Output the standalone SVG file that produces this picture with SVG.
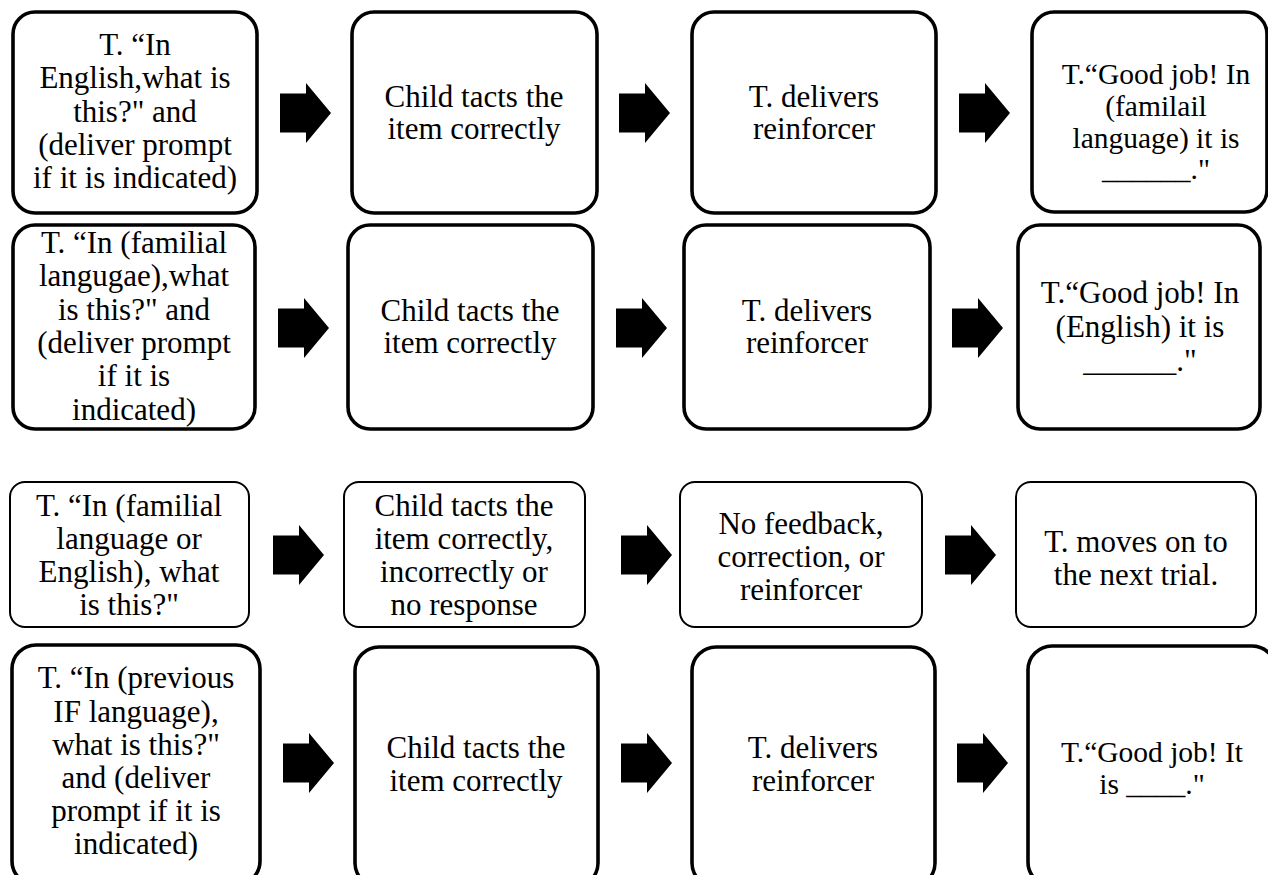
<svg xmlns="http://www.w3.org/2000/svg" width="1268" height="875" viewBox="0 0 1268 875">
<style>
.b{fill:#fff;stroke:#000;stroke-width:3.6}
.t{fill:#fff;stroke:#000;stroke-width:2}
text{font-family:"Liberation Serif","Times New Roman",serif;font-size:31px;fill:#000;text-anchor:middle}
.s{font-size:29.5px}
</style>
<defs>
<path id="arr" d="M0,-19.5 H26 V-30 L51,0 L26,30 V19.5 H0 Z" fill="#000"/>
</defs>
<rect width="1268" height="875" fill="#fff"/>
<g id="connectors">
<use href="#arr" x="280" y="113"/>
<use href="#arr" x="619" y="113"/>
<use href="#arr" x="959" y="113"/>
<use href="#arr" x="278" y="328"/>
<use href="#arr" x="616" y="328"/>
<use href="#arr" x="952" y="328"/>
<use href="#arr" x="273" y="555"/>
<use href="#arr" x="621" y="555"/>
<use href="#arr" x="945" y="555"/>
<use href="#arr" x="283" y="763"/>
<use href="#arr" x="621" y="763"/>
<use href="#arr" x="957" y="763"/>
</g>
<g id="r1n1"><rect class="b" x="13" y="12" width="244" height="201" rx="22"/>
<text x="135" y="55">T. “In</text><text x="135" y="88">English,what is</text><text x="135" y="122">this?" and</text><text x="135" y="155">(deliver prompt</text><text x="135" y="188">if it is indicated)</text></g>
<g id="r1n2"><rect class="b" x="352" y="12" width="245" height="201" rx="22"/>
<text x="474" y="107">Child tacts the</text><text x="474" y="139">item correctly</text></g>
<g id="r1n3"><rect class="b" x="692" y="12" width="244" height="201" rx="22"/>
<text x="814" y="107">T. delivers</text><text x="814" y="139">reinforcer</text></g>
<g id="r1n4"><rect class="b" x="1032" y="12" width="235" height="200" rx="22"/>
<text class="s" x="1156" y="84">T.“Good job! In</text><text class="s" x="1156" y="116">(familail</text><text class="s" x="1156" y="148">language) it is</text><text class="s" x="1156" y="179">______."</text></g>

<g id="r2n1"><rect class="b" x="13" y="225" width="242" height="204" rx="22"/>
<text x="134" y="253">T. “In (familial</text><text x="134" y="286">langugae),what</text><text x="134" y="320">is this?" and</text><text x="134" y="353">(deliver prompt</text><text x="134" y="386">if it is</text><text x="134" y="420">indicated)</text></g>
<g id="r2n2"><rect class="b" x="348" y="225" width="245" height="204" rx="22"/>
<text x="470" y="321">Child tacts the</text><text x="470" y="353">item correctly</text></g>
<g id="r2n3"><rect class="b" x="684" y="225" width="246" height="204" rx="22"/>
<text x="807" y="321">T. delivers</text><text x="807" y="353">reinforcer</text></g>
<g id="r2n4"><rect class="b" x="1018" y="225" width="242" height="204" rx="22"/>
<text x="1140" y="303">T.“Good job! In</text><text x="1140" y="337">(English) it is</text><text x="1140" y="371">______."</text></g>

<g id="r3n1"><rect class="t" x="10" y="482" width="239" height="145" rx="15"/>
<text x="129" y="516">T. “In (familial</text><text x="129" y="549">language or</text><text x="129" y="582">English), what</text><text x="129" y="615">is this?"</text></g>
<g id="r3n2"><rect class="t" x="344" y="482" width="241" height="145" rx="15"/>
<text x="464" y="516">Child tacts the</text><text x="464" y="549">item correctly,</text><text x="464" y="582">incorrectly or</text><text x="464" y="615">no response</text></g>
<g id="r3n3"><rect class="t" x="680" y="482" width="242" height="145" rx="15"/>
<text x="801" y="534">No feedback,</text><text x="801" y="567">correction, or</text><text x="801" y="600">reinforcer</text></g>
<g id="r3n4"><rect class="t" x="1016" y="482" width="240" height="145" rx="15"/>
<text x="1136" y="552">T. moves on to</text><text x="1136" y="585">the next trial.</text></g>

<g id="r4n1"><rect class="b" x="12" y="645" width="248" height="240" rx="24"/>
<text x="136" y="688">T. “In (previous</text><text x="136" y="722">IF language),</text><text x="136" y="755">what is this?"</text><text x="136" y="788">and (deliver</text><text x="136" y="821">prompt if it is</text><text x="136" y="854">indicated)</text></g>
<g id="r4n2"><rect class="b" x="355" y="647" width="243" height="240" rx="24"/>
<text x="476" y="758">Child tacts the</text><text x="476" y="791">item correctly</text></g>
<g id="r4n3"><rect class="b" x="692" y="647" width="243" height="240" rx="24"/>
<text x="813" y="758">T. delivers</text><text x="813" y="791">reinforcer</text></g>
<g id="r4n4"><rect class="b" x="1028" y="646" width="248" height="240" rx="24"/>
<text class="s" x="1152" y="762">T.“Good job! It</text><text class="s" x="1152" y="794">is ____."</text></g>
</svg>
